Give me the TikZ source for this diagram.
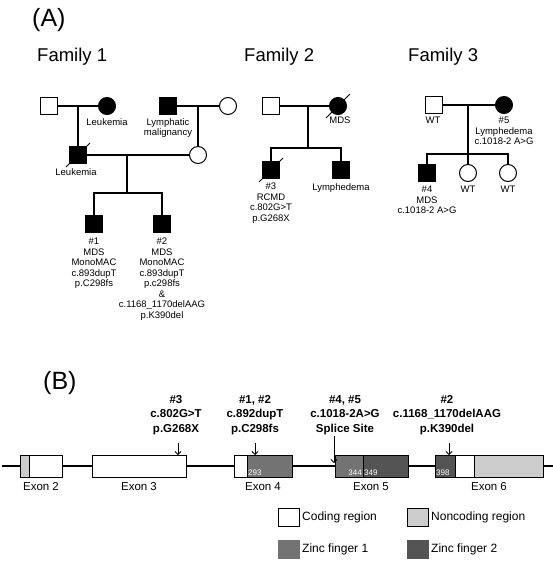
\documentclass[tikz,border=0pt]{standalone}
\usepackage{fontspec}
\setmainfont{Liberation Sans}
\usetikzlibrary{arrows.meta,calc}
\definecolor{zfone}{gray}{0.45}
\definecolor{zftwo}{gray}{0.33}
\definecolor{noncod}{gray}{0.80}
\begin{document}
\begin{tikzpicture}[x=1pt, y=-1pt,
	male/.style={draw, line width=1pt, minimum size=17pt, inner sep=0pt},
	female/.style={draw, circle, line width=1pt, minimum size=17pt, inner sep=0pt},
	ped/.style={line width=1.3pt},
	pedtxt/.style={anchor=north, align=center, inner sep=0pt, font=\fontsize{9.5}{10.5}\selectfont},
	mut/.style={anchor=south, align=center, inner sep=0pt, font=\fontsize{11.5}{14.5}\selectfont\bfseries},
	exontxt/.style={anchor=north, inner sep=0pt, font=\fontsize{11.5}{13}\selectfont},
	aanum/.style={anchor=south west, inner sep=1pt, text=white, font=\fontsize{8}{9}\selectfont},
	legtxt/.style={anchor=west, inner sep=0pt, font=\fontsize{12}{14}\selectfont},
	mutarrow/.style={line width=0.8pt, -{Straight Barb[length=3pt,width=6pt]}},
	exon/.style={line width=1pt}]
	\useasboundingbox (0,0) rectangle (553,566);
	\node[anchor=west, inner sep=0pt, font=\fontsize{25}{27}\selectfont] (tA) at (32,20) {(A)};
	\node[anchor=west, inner sep=0pt, font=\fontsize{18.5}{20}\selectfont] (fam1) at (37,57) {Family 1};
	\node[anchor=west, inner sep=0pt, font=\fontsize{18.5}{20}\selectfont] (fam2) at (244,57) {Family 2};
	\node[anchor=west, inner sep=0pt, font=\fontsize{18.5}{20}\selectfont] (fam3) at (408,57) {Family 3};
	% Family 1
	\node[male] (f1gf) at (49,106) {};
	\node[female, fill=black] (f1gm) at (107,106) {};
	\node[male, fill=black] (f1pgf) at (168,106) {};
	\node[female] (f1pgm) at (228,106) {};
	\node[male, fill=black] (f1dad) at (78,155) {};
	\node[female] (f1mom) at (198,155) {};
	\node[male, fill=black] (f1p1) at (94,224) {};
	\node[male, fill=black] (f1p2) at (162,224) {};
	\coordinate (f1m1) at (78,106);
	\coordinate (f1m2) at (198,106);
	\coordinate (f1m3) at (127,155);
	\coordinate (f1s) at (127,193);
	\draw[ped] (f1gf) -- (f1gm);
	\draw[ped] (f1pgf) -- (f1pgm);
	\draw[ped] (f1m1) -- (f1dad);
	\draw[ped] (f1m2) -- (f1mom);
	\draw[ped] (f1dad) -- (f1mom);
	\draw[ped] (f1m3) -- (f1s);
	\draw[ped] (f1p1) |- (f1s) -| (f1p2);
	\draw[line width=1pt] ($(f1dad)+(-12,12)$) -- ($(f1dad)+(12,-12)$);
	\node[pedtxt] (l1gm) at (107,118) {Leukemia};
	\node[pedtxt] (l1pgf) at (168,118) {Lymphatic\\malignancy};
	\node[pedtxt] (l1dad) at (76,168) {Leukemia};
	\node[pedtxt] (l1p1) at (94,238) {\#1\\MDS\\MonoMAC\\c.893dupT\\p.C298fs};
	\node[pedtxt] (l1p2) at (162,238) {\#2\\MDS\\MonoMAC\\c.893dupT\\p.c298fs\\\&\\c.1168\_1170delAAG\\p.K390del};
	% Family 2
	\node[male] (f2gf) at (271,106) {};
	\node[female, fill=black] (f2gm) at (338,106) {};
	\node[male, fill=black] (f2p3) at (271,170) {};
	\node[male, fill=black] (f2c2) at (341,170) {};
	\coordinate (f2m) at (308,106);
	\coordinate (f2s) at (308,148);
	\draw[ped] (f2gf) -- (f2gm);
	\draw[ped] (f2m) -- (f2s);
	\draw[ped] (f2p3) |- (f2s) -| (f2c2);
	\draw[line width=1pt] ($(f2gm)+(-12,12)$) -- ($(f2gm)+(12,-12)$);
	\draw[line width=1pt] ($(f2p3)+(-12,12)$) -- ($(f2p3)+(12,-12)$);
	\node[pedtxt] (l2gm) at (340,117) {MDS};
	\node[pedtxt] (l2p3) at (271,183) {\#3\\RCMD\\c.802G>T\\p.G268X};
	\node[pedtxt] (l2c2) at (341,183) {Lymphedema};
	% Family 3
	\node[male] (f3gf) at (434,105) {};
	\node[female, fill=black] (f3gm) at (504,105) {};
	\node[male, fill=black] (f3p4) at (427,173) {};
	\node[female] (f3c2) at (468,173) {};
	\node[female] (f3c3) at (508,173) {};
	\coordinate (f3m) at (468,105);
	\coordinate (f3s) at (468,154);
	\draw[ped] (f3gf) -- (f3gm);
	\draw[ped] (f3m) -- (f3s) -- (f3c2);
	\draw[ped] (f3p4) |- (f3s) -| (f3c3);
	\node[pedtxt] (l3gf) at (433,117) {WT};
	\node[pedtxt] (l3gm) at (504,117) {\#5\\Lymphedema\\c.1018-2 A>G};
	\node[pedtxt] (l3p4) at (427,186) {\#4\\MDS\\c.1018-2 A>G};
	\node[pedtxt] (l3c2) at (468,186) {WT};
	\node[pedtxt] (l3c3) at (508,186) {WT};
	% (B) gene
	\node[anchor=west, inner sep=0pt, font=\fontsize{25}{27}\selectfont] (tB) at (43,383) {(B)};
	\draw[ped] (2,466) -- (553,466);
	\filldraw[exon, fill=noncod] (20,455) rectangle (29,477);
	\filldraw[exon, fill=white] (29,455) rectangle (62,477);
	\filldraw[exon, fill=white] (92,455) rectangle (186,477);
	\filldraw[exon, fill=white] (234,455) rectangle (247,477);
	\filldraw[exon, fill=zfone] (247,455) rectangle (292,477);
	\filldraw[exon, fill=zfone] (335,455) rectangle (363,477);
	\filldraw[exon, fill=zftwo] (363,455) rectangle (408,477);
	\filldraw[exon, fill=zftwo] (435,455) rectangle (455,477);
	\filldraw[exon, fill=white] (455,455) rectangle (474,477);
	\filldraw[exon, fill=noncod] (474,455) rectangle (543,477);
	\node[aanum] (n293) at (247,477) {293};
	\node[aanum, anchor=south east] (n344) at (363,477) {344};
	\node[aanum] (n349) at (363,477) {349};
	\node[aanum] (n398) at (435,477) {398};
	\node[exontxt] (e2) at (41,482) {Exon 2};
	\node[exontxt] (e3) at (139,482) {Exon 3};
	\node[exontxt] (e4) at (263,482) {Exon 4};
	\node[exontxt] (e5) at (371,482) {Exon 5};
	\node[exontxt] (e6) at (489,482) {Exon 6};
	% mutations
	\node[mut] (m3) at (176,435) {\#3\\c.802G>T\\p.G268X};
	\node[mut] (m12) at (255,435) {\#1, \#2\\c.892dupT\\p.C298fs};
	\node[mut] (m45) at (345,435) {\#4, \#5\\c.1018-2A>G\\Splice Site};
	\node[mut] (m2) at (447,435) {\#2\\c.1168\_1170delAAG\\p.K390del};
	\coordinate (a3) at (178,455);
	\coordinate (a12) at (255,455);
	\coordinate (a45) at (334,463);
	\coordinate (a2) at (449,455);
	\draw[mutarrow] (178,443) -- (a3);
	\draw[mutarrow] (255,443) -- (a12);
	\draw[mutarrow] (334,436) -- (a45);
	\draw[mutarrow] (449,443) -- (a2);
	% legend
	\draw[exon, fill=white] (278,508) rectangle (299,526);
	\draw[exon, fill=noncod] (407,508) rectangle (428,526);
	\draw[exon, draw=zfone, fill=zfone] (278,540) rectangle (299,558);
	\draw[exon, draw=zftwo, fill=zftwo] (407,540) rectangle (428,558);
	\node[legtxt] (lc) at (302,517) {Coding region};
	\node[legtxt] (ln) at (431,517) {Noncoding region};
	\node[legtxt] (lz1) at (302,549) {Zinc finger 1};
	\node[legtxt] (lz2) at (431,549) {Zinc finger 2};
\end{tikzpicture}
\end{document}
